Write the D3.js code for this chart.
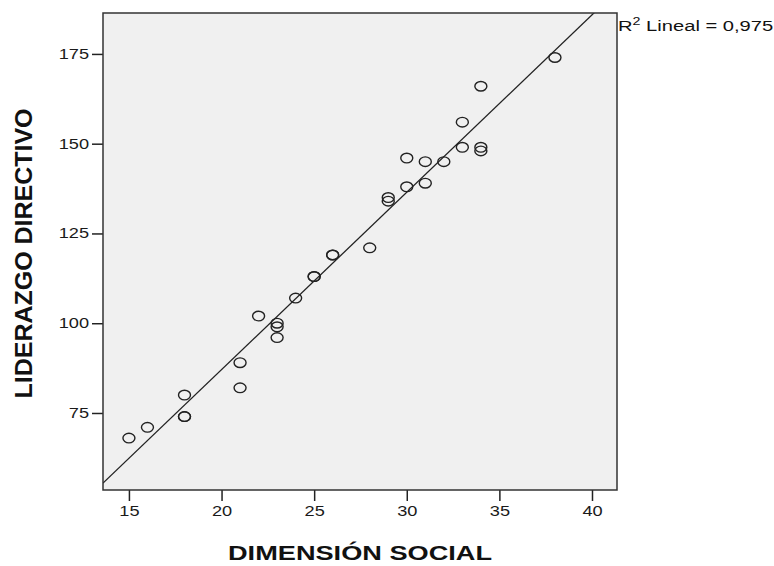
<!DOCTYPE html>
<html>
<head>
<meta charset="utf-8">
<script src="https://cdn.jsdelivr.net/npm/d3@7"></script>
<style>
  body { margin: 0; background: #fff; }
  text { font-family: "Liberation Sans", Arial, sans-serif; }
</style>
</head>
<body>
<script>
const width = 774;
const height = 566;

// dimension social (x) and liderazgo directivo (y), one entry per case
const dimensionSocial = [15, 16, 18, 18, 18, 21, 21, 22, 23, 23, 23, 24, 25, 25, 26, 26, 28, 29, 29, 30, 30, 31, 31, 32, 33, 33, 34, 34, 34, 38];
const liderazgo = [68, 71, 80, 74, 74, 89, 82, 102, 100, 99, 96, 107, 113, 113, 119, 119, 121, 135, 134, 146, 138, 145, 139, 145, 156, 149, 166, 149, 148, 174];
const xTicks = [15, 20, 25, 30, 35, 40];
const yTicks = [75, 100, 125, 150, 175];
const r2Label = "0,975";

const plot = {left: 103, right: 617, top: 13, bottom: 490};
const stretch = 1.3; // reference is drawn wider than tall

const x = d3.scaleLinear().domain([13.6, 41.35]).range([plot.left, plot.right]);
const y = d3.scaleLinear().domain([53.55, 186.4]).range([plot.bottom, plot.top]);

const svg = d3.select("body").append("svg")
    .attr("width", width)
    .attr("height", height);

svg.append("defs").append("clipPath")
    .attr("id", "clip")
  .append("rect")
    .attr("x", plot.left).attr("y", plot.top)
    .attr("width", plot.right - plot.left)
    .attr("height", plot.bottom - plot.top);

// background
svg.append("rect")
    .attr("x", plot.left).attr("y", plot.top)
    .attr("width", plot.right - plot.left)
    .attr("height", plot.bottom - plot.top)
    .attr("fill", "#f0f0f0");

// x axis
const gx = svg.append("g")
    .attr("transform", `translate(0,${plot.bottom})`)
    .call(d3.axisBottom(x).tickValues(xTicks).tickSize(11).tickPadding(5));
gx.select(".domain").remove();
gx.selectAll("line").attr("stroke", "#222").attr("stroke-width", 1.5);
gx.selectAll("text")
    .attr("font-size", 14).attr("fill", "#1a1a1a")
    .attr("font-family", "Liberation Sans, Arial, sans-serif")
    .attr("transform", `scale(${stretch},1)`);

// y axis
const gy = svg.append("g")
    .attr("transform", `translate(${plot.left},0)`)
    .call(d3.axisLeft(y).tickValues(yTicks).tickSize(11).tickPadding(3));
gy.select(".domain").remove();
gy.selectAll("line").attr("stroke", "#222").attr("stroke-width", 1.5);
gy.selectAll("text")
    .attr("font-size", 14).attr("fill", "#1a1a1a")
    .attr("font-family", "Liberation Sans, Arial, sans-serif")
    .attr("x", -14 / stretch)
    .attr("transform", `scale(${stretch},1)`);

// least squares fit
const mx = d3.mean(dimensionSocial), my = d3.mean(liderazgo);
let sxy = 0, sxx = 0;
dimensionSocial.forEach((v, i) => {
  sxy += (v - mx) * (liderazgo[i] - my);
  sxx += (v - mx) * (v - mx);
});
const slope = sxy / sxx;
const intercept = my - slope * mx;
const [x0, x1] = x.domain();

svg.append("line")
    .attr("clip-path", "url(#clip)")
    .attr("x1", x(x0)).attr("y1", y(intercept + slope * x0))
    .attr("x2", x(x1)).attr("y2", y(intercept + slope * x1))
    .attr("stroke", "#222")
    .attr("stroke-width", 1.3);

// points
svg.append("g")
  .selectAll("ellipse")
  .data(dimensionSocial.map((v, i) => [v, liderazgo[i]]))
  .join("ellipse")
    .attr("cx", d => x(d[0]))
    .attr("cy", d => y(d[1]))
    .attr("rx", 6)
    .attr("ry", 4.8)
    .attr("fill", "none")
    .attr("stroke", "#222")
    .attr("stroke-width", 1.4);

// frame
svg.append("rect")
    .attr("x", plot.left).attr("y", plot.top)
    .attr("width", plot.right - plot.left)
    .attr("height", plot.bottom - plot.top)
    .attr("fill", "none")
    .attr("stroke", "#333")
    .attr("stroke-width", 1.5);

// R2 label
const r2 = svg.append("text")
    .attr("transform", `translate(${plot.right + 1},31) scale(${stretch},1)`)
    .attr("font-size", 15.5)
    .attr("fill", "#111");
r2.append("tspan").text("R");
r2.append("tspan").attr("font-size", 11).attr("dy", -6).text("2");
r2.append("tspan").attr("dy", 6).text(" Lineal = " + r2Label);

// axis titles
svg.append("text")
    .attr("x", (plot.left + plot.right) / 2)
    .attr("y", 560)
    .attr("text-anchor", "middle")
    .attr("font-size", 21)
    .attr("font-weight", "bold")
    .attr("fill", "#111")
    .attr("textLength", 264)
    .attr("lengthAdjust", "spacingAndGlyphs")
    .text("DIMENSIÓN SOCIAL");

svg.append("text")
    .attr("transform", `translate(32,${(plot.top + plot.bottom) / 2 + 2}) scale(${stretch},1) rotate(-90)`)
    .attr("text-anchor", "middle")
    .attr("font-size", 19)
    .attr("font-weight", "bold")
    .attr("fill", "#111")
    .attr("textLength", 290)
    .attr("lengthAdjust", "spacingAndGlyphs")
    .text("LIDERAZGO DIRECTIVO");
</script>
</body>
</html>
